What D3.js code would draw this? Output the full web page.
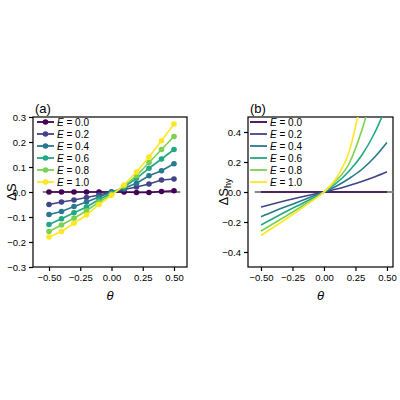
<!DOCTYPE html><html><head><script src="https://cdn.jsdelivr.net/npm/d3@7"></script>
<style>body{margin:0;background:#fff}text{font-family:"Liberation Sans",Arial,sans-serif}</style></head><body><svg id="c" width="400" height="400"></svg><script>
const labels=["E = 0.0","E = 0.2","E = 0.4","E = 0.6","E = 0.8","E = 1.0"];
const colors=["#440154","#414487","#2a788e","#22a884","#7ad151","#fde725"];
const thetaA=[-0.5,-0.4,-0.3,-0.2,-0.1,0,0.1,0.2,0.3,0.4,0.5];
const dsA=[
[0,0,0,0,0,0,0,-0.002,-0.002,0.002,0.005],
[-0.05,-0.04,-0.032,-0.022,-0.012,0,0.01,0.02,0.032,0.048,0.052],
[-0.09,-0.078,-0.058,-0.04,-0.02,0,0.015,0.035,0.065,0.085,0.113],
[-0.13,-0.107,-0.083,-0.06,-0.03,-0.005,0.02,0.055,0.095,0.132,0.17],
[-0.158,-0.132,-0.105,-0.075,-0.04,-0.01,0.025,0.065,0.118,0.17,0.222],
[-0.18,-0.158,-0.125,-0.092,-0.05,-0.013,0.028,0.08,0.14,0.205,0.272]];
const thetaB=[-0.5,-0.4,-0.3,-0.2,-0.1,0,0.1,0.2,0.3,0.4,0.5];
const dsB=[
[0,0,0,0,0,0,0,0,0,0,0],
[-0.1,-0.078,-0.057,-0.037,-0.018,0,0.02,0.044,0.07,0.1,0.135],
[-0.165,-0.13,-0.097,-0.065,-0.032,0,0.04,0.09,0.15,0.23,0.33],
[-0.22,-0.175,-0.13,-0.088,-0.045,0,0.06,0.14,0.245,0.39,0.58],
[-0.26,-0.21,-0.16,-0.108,-0.055,0,0.078,0.19,0.41,0.7,1.0],
[-0.29,-0.235,-0.18,-0.123,-0.063,0,0.095,0.27,0.62,1.0,1.5]];
const ticksX=[-0.5,-0.25,0,0.25,0.5];
const svg=d3.select("#c");
const fmt=(d,p)=>d3.format("."+p+"f")(d).replace("-","\u2212");
function panel(L,R,T,B,xd,yd,yt,yp,tag,ylab,sub,yoff){
 const g=svg.append("g");
 const x=d3.scaleLinear().domain(xd).range([L,R]),y=d3.scaleLinear().domain(yd).range([B,T]);
 const ax=g.append("g").attr("transform",`translate(0,${B})`).call(d3.axisBottom(x).tickValues(ticksX).tickFormat(d=>fmt(d,2)).tickSize(4));
 const ay=g.append("g").attr("transform",`translate(${L},0)`).call(d3.axisLeft(y).tickValues(yt).tickFormat(d=>fmt(d,yp)).tickSize(4));
 [ax,ay].forEach(a=>{a.select(".domain").remove();a.selectAll("text").attr("font-size",9.5).attr("fill","#000");a.selectAll("line").attr("stroke-width",1.2);});
 g.append("rect").attr("x",L).attr("y",T).attr("width",R-L).attr("height",B-T).attr("fill","none").attr("stroke","#000").attr("stroke-width",1.2);
 g.append("text").attr("x",L+2).attr("y",T-4).attr("font-size",13).text(tag);
 g.append("text").attr("x",(L+R)/2).attr("y",B+33).attr("text-anchor","middle").attr("font-size",13).attr("font-style","italic").text("θ");
 const yl=g.append("text").attr("transform",`translate(${L-yoff},${(T+B)/2}) rotate(-90)`).attr("text-anchor","middle").attr("font-size",13).text(ylab);
 if(sub) yl.append("tspan").attr("font-size",9).attr("dy",3).text(sub);
 g.append("line").attr("x1",x(-0.55)).attr("x2",x(0.55)).attr("y1",y(0)).attr("y2",y(0)).attr("stroke","#888").attr("stroke-width",2);
 return {g,x,y};
}
const A=panel(33,187,117,267,[-0.628,0.604],[-0.3,0.3],[-0.3,-0.2,-0.1,0,0.1,0.2,0.3],1,"(a)","ΔS","",17);
dsA.forEach((s,i)=>{
 const pts=thetaA.map((t,j)=>[t,s[j]]);
 A.g.append("path").attr("d",d3.line().x(d=>A.x(d[0])).y(d=>A.y(d[1]))(pts)).attr("fill","none").attr("stroke",colors[i]).attr("stroke-width",1.6);
 A.g.selectAll(null).data(pts).enter().append("circle").attr("cx",d=>A.x(d[0])).attr("cy",d=>A.y(d[1])).attr("r",2.8).attr("fill",colors[i]);
});
const B=panel(248,393,117,267,[-0.603,0.548],[-0.5,0.5],[-0.4,-0.2,0,0.2,0.4],1,"(b)","ΔS","hy",20);
svg.append("clipPath").attr("id","cb").append("rect").attr("x",248).attr("y",117).attr("width",145).attr("height",150);
dsB.forEach((s,i)=>{
 const pts=thetaB.map((t,j)=>[t,s[j]]);
 B.g.append("path").attr("clip-path","url(#cb)").attr("d",d3.line().curve(d3.curveMonotoneX).x(d=>B.x(d[0])).y(d=>B.y(d[1]))(pts)).attr("fill","none").attr("stroke",colors[i]).attr("stroke-width",1.6);
});
function legend(x0,marker){
 labels.forEach((l,i)=>{
  const yy=122+i*12;
  svg.append("line").attr("x1",x0).attr("x2",x0+17).attr("y1",yy).attr("y2",yy).attr("stroke",colors[i]).attr("stroke-width",1.8);
  if(marker) svg.append("circle").attr("cx",x0+8.5).attr("cy",yy).attr("r",2.8).attr("fill",colors[i]);
  const t=svg.append("text").attr("x",x0+20).attr("y",yy+3.5).attr("font-size",10);
  t.append("tspan").attr("font-style","italic").text("E");
  t.append("tspan").text(l.slice(1));
 });
}
legend(37,true);legend(250,false);
</script></body></html>
